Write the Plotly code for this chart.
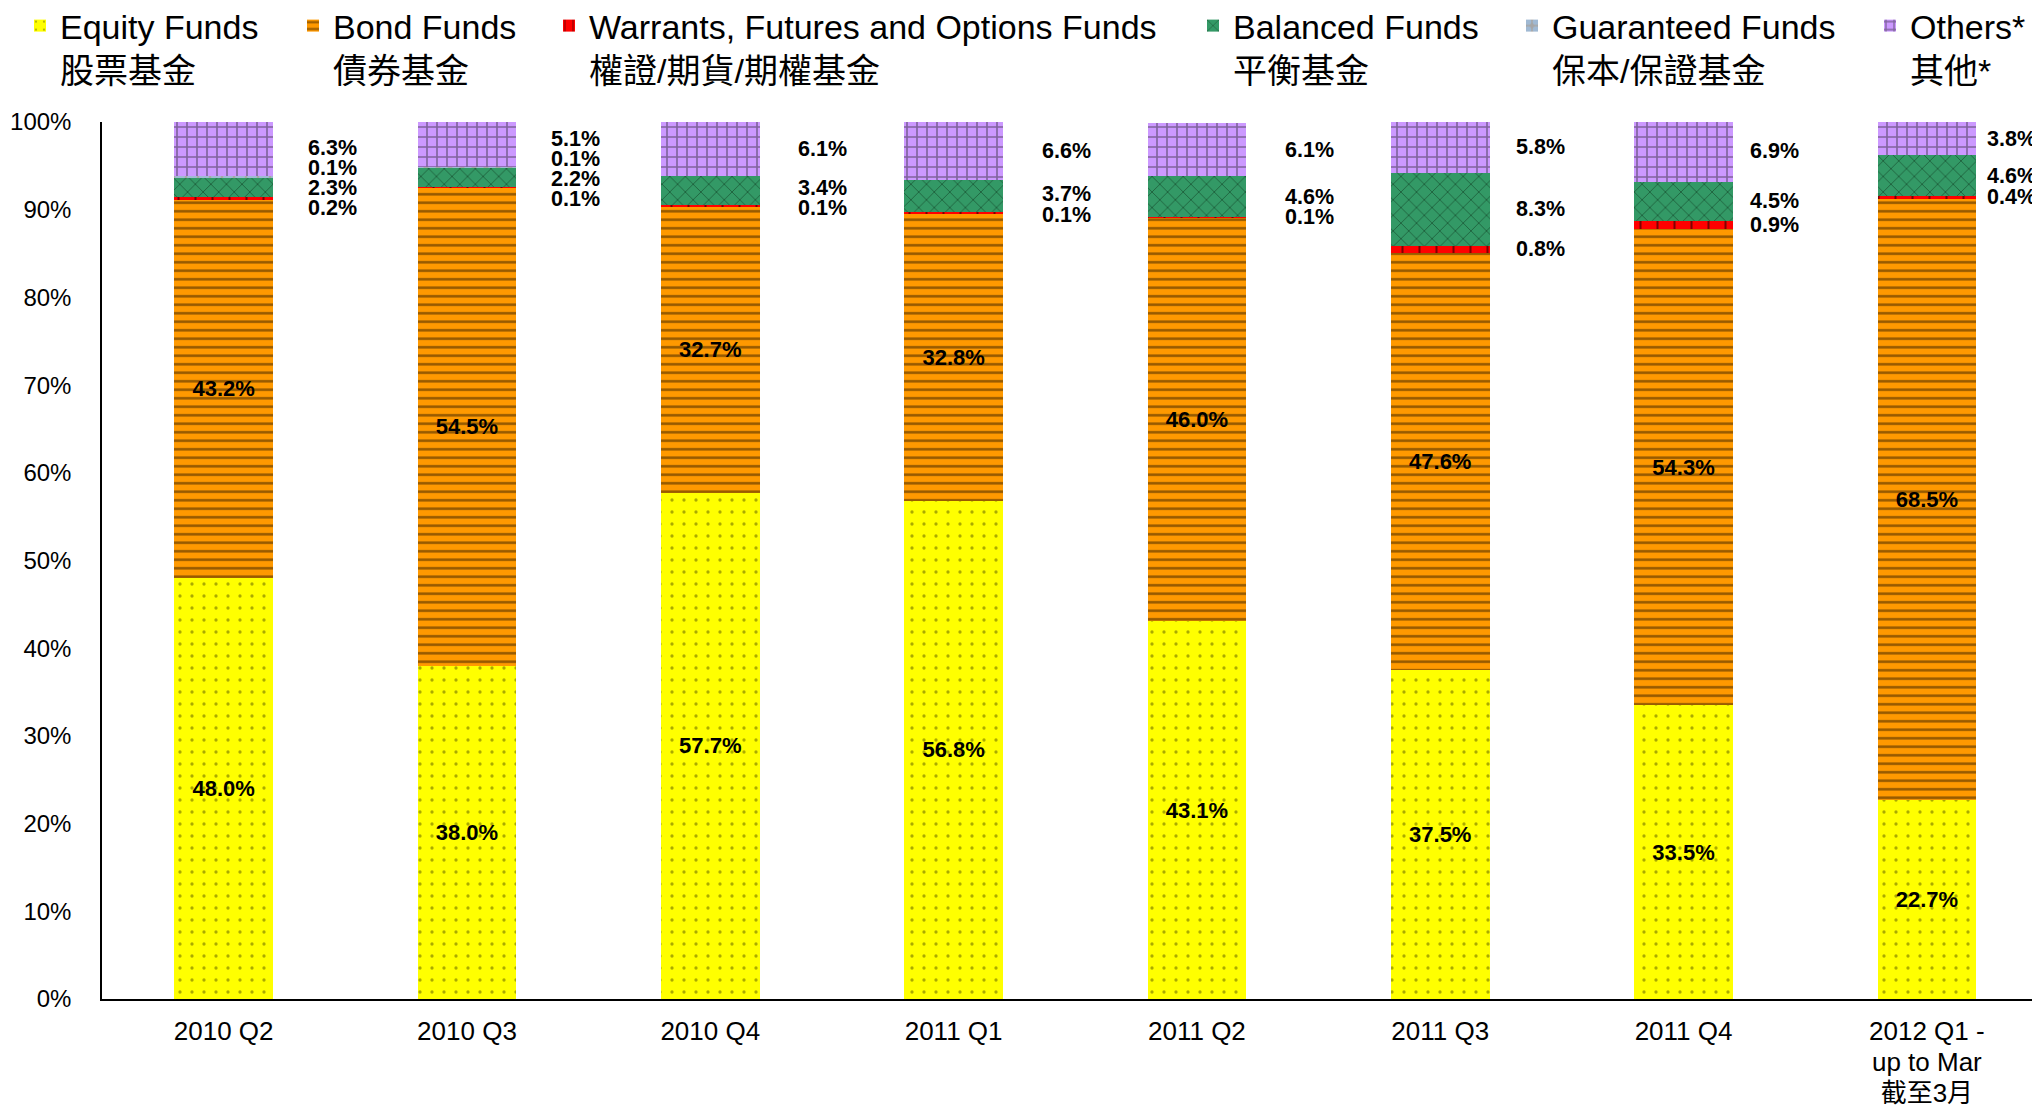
import plotly.graph_objects as go

categories = ["2010 Q2", "2010 Q3", "2010 Q4", "2011 Q1", "2011 Q2", "2011 Q3", "2011 Q4",
              "2012 Q1 -<br>up to Mar<br>截至3月"]
equity = [48.0, 38.0, 57.7, 56.8, 43.1, 37.5, 33.5, 22.7]
bond = [43.2, 54.5, 32.7, 32.8, 46.0, 47.6, 54.3, 68.5]
warrants = [0.2, 0.1, 0.1, 0.1, 0.1, 0.8, 0.9, 0.4]
balanced = [2.3, 2.2, 3.4, 3.7, 4.6, 8.3, 4.5, 4.6]
guaranteed = [0.1, 0.1, 0.0, 0.0, 0.0, 0.0, 0.0, 0.0]
others = [6.3, 5.1, 6.1, 6.6, 6.1, 5.8, 6.9, 3.8]
y_ticks = list(range(0, 101, 10))
y_tick_text = [f"{v}%" for v in y_ticks]

FONT = "Liberation Sans, Arial, Noto Sans CJK TC, sans-serif"

# page body adds an 8px offset; size the figure to the visible area
W, H = 2032, 1100

series = [
    ("Equity Funds<br>股票基金", equity, "#FFFF00",
     dict(shape=".", fgcolor="#555500", size=12, solidity=0.06)),
    ("Bond Funds<br>債券基金", bond, "#FF9900",
     dict(shape="-", fgcolor="#2a1800", size=8.5, solidity=0.3)),
    ("Warrants, Futures and Options Funds<br>權證/期貨/期權基金", warrants, "#FF0000",
     dict(shape="|", fgcolor="#000000", size=17, solidity=0.12)),
    ("Balanced Funds<br>平衡基金", balanced, "#339966",
     dict(shape="x", fgcolor="#0a2a14", size=11, solidity=0.16)),
    ("Guaranteed Funds<br>保本/保證基金", guaranteed, "#99CCFF",
     dict(shape=".", fgcolor="#99CCFF", bgcolor="#A6A6A6", size=12, solidity=0.55)),
    ("Others*<br>其他*", others, "#CC99FF",
     dict(shape="+", fgcolor="#332d3a", size=10, solidity=0.3)),
]
# layout: left edge (px) of each legend entry, and label offsets right of each bar
legend_left_px = [12, 285, 541, 1185, 1504, 1862]
label_dx_px = [82, 82, 86, 86, 86, 74, 64, 58]

fig = go.Figure()
legend_layouts = {}
for i, (name, vals, col, pat) in enumerate(series):
    inside = i < 2
    lname = "legend" if i == 0 else f"legend{i + 1}"
    fig.add_trace(go.Bar(
        name=name, x=categories, y=vals,
        marker=dict(color=col, line=dict(width=0), pattern=pat),
        text=[f"{v:.1f}%" for v in vals] if inside else None,
        textposition="inside" if inside else "none",
        insidetextanchor="middle", textangle=0,
        textfont=dict(family=FONT, size=22, color="black", weight="bold"),
        width=0.405, hoverinfo="skip", legend=lname,
    ))
    legend_layouts[lname] = dict(
        orientation="h", xref="container", yref="container",
        x=legend_left_px[i] / W, y=1 - 40 / H, xanchor="left", yanchor="middle",
        valign="top",
        font=dict(family=FONT, size=34, color="black"),
        bgcolor="rgba(0,0,0,0)",
    )

# outside labels for the small segments, spread apart to avoid overlap
GAP = 2.3
annotations = []
for ci, cat in enumerate(categories):
    base = equity[ci] + bond[ci]
    segs = []
    cum = base
    for vals in (warrants, balanced, guaranteed, others):
        v = vals[ci]
        segs.append((v, cum + v / 2))
        cum += v
    segs = [s for s in segs if s[0] > 0][::-1]  # top-down
    pos = [m for _, m in segs]
    for _ in range(300):
        for k in range(len(pos) - 1):
            d = pos[k] - pos[k + 1]
            if d < GAP:
                sh = (GAP - d) / 2
                pos[k] += sh
                pos[k + 1] -= sh
    for (v, _), p in zip(segs, pos):
        annotations.append(dict(
            x=cat, y=p, xref="x", yref="y", text=f"{v:.1f}%", showarrow=False,
            xanchor="left", yanchor="middle", xshift=label_dx_px[ci],
            font=dict(family=FONT, size=21.5, color="black", weight="bold"),
        ))

x_tick_text = [f"<span style='font-size:26px'>{c}</span>".replace(
    "<br>", "</span><br><span style='font-size:26px'>") for c in categories]

fig.update_layout(
    width=W, height=H,
    barmode="stack",
    paper_bgcolor="white", plot_bgcolor="white",
    margin=dict(l=94, r=0, t=114, b=109, autoexpand=False),
    font=dict(family=FONT, color="black"),
    showlegend=True,
    annotations=annotations,
    xaxis=dict(showgrid=False, showline=True, linecolor="black", linewidth=1.5,
               range=[-0.5, 7.465],
               ticks="", tickmode="array", tickvals=categories, ticktext=x_tick_text,
               tickfont=dict(family=FONT, size=24, color="black"),
               ticklabelstandoff=10),
    yaxis=dict(range=[0, 100], tickmode="array", tickvals=y_ticks, ticktext=y_tick_text,
               showgrid=False, showline=True, linecolor="black", linewidth=1.5, ticks="",
               zeroline=False, tickfont=dict(family=FONT, size=24, color="black"),
               ticklabelstandoff=24),
    **legend_layouts,
)

fig.write_html("out.html")
